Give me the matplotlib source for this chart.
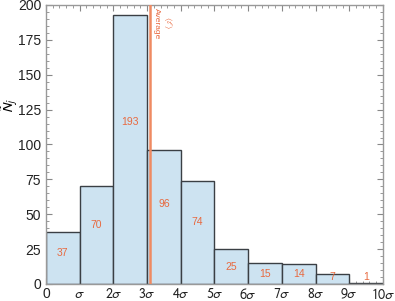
import matplotlib
matplotlib.use("Agg")
import matplotlib.pyplot as plt
from matplotlib.ticker import MultipleLocator

plt.rcParams['font.family'] = ['Liberation Sans', 'DejaVu Sans']
plt.rcParams['mathtext.fontset'] = 'stixsans'

bin_left = [0, 1, 2, 3, 4, 5, 6, 7, 8, 9]
counts = [37, 70, 193, 96, 74, 25, 15, 14, 7, 1]
xtick_labels = ["0", r"$\sigma$", r"$2\sigma$", r"$3\sigma$", r"$4\sigma$", r"$5\sigma$",
                r"$6\sigma$", r"$7\sigma$", r"$8\sigma$", r"$9\sigma$", r"$10\sigma$"]
average = 3.1

orange = '#e8693f'
fig = plt.figure(figsize=(3.95, 3.01), dpi=100)
ax = fig.add_axes([0.1165, 0.0565, 0.853, 0.927])

ax.bar(bin_left, counts, width=1.0, align='edge', color='#cde3f1',
       edgecolor='#3a3f44', linewidth=1.0, zorder=2)

for x, c in zip(bin_left, counts):
    y = 0.6 * c if c > 30 else 0.5 * c
    y = max(y, 5)
    ax.text(x + 0.5, y, str(c), color=orange, fontsize=7.5, ha='center', va='center', zorder=3)

ax.axvline(average, color='#ef8a62', linewidth=1.8, zorder=4)
ax.text(average + 0.08, 198, "Average", rotation=-90, color=orange, fontsize=6,
        ha='left', va='top')
ax.text(average + 0.33, 192, r"$\langle\ell\rangle$", rotation=-90, color=orange, fontsize=6,
        ha='left', va='top')

ax.set_xlim(0, 10)
ax.set_ylim(0, 200)
ax.set_xticks(range(11))
ax.set_xticklabels(xtick_labels)
ax.yaxis.set_major_locator(MultipleLocator(25))
ax.yaxis.set_minor_locator(MultipleLocator(5))
ax.xaxis.set_minor_locator(MultipleLocator(0.2))
ax.tick_params(which='both', direction='in', top=True, right=True, colors='#888888',
               labelcolor='#222222', labelsize=10)
ax.tick_params(which='major', length=4, width=0.8)
ax.tick_params(which='minor', length=2, width=0.6)
ax.tick_params(axis='x', pad=2)
for s in ax.spines.values():
    s.set_color('#999999')
    s.set_linewidth(1.0)

ax.set_ylabel(r"$\tilde{N}_j$", fontsize=10)
ax.yaxis.set_label_coords(-0.077, 0.64)

fig.savefig("out.png", dpi=100)
